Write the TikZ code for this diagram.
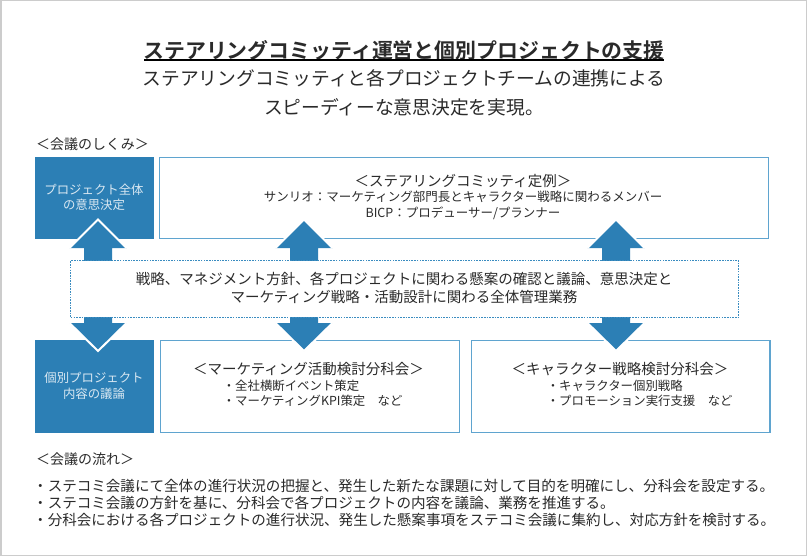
\documentclass[tikz,border=0pt]{standalone}
\usepackage{fontspec}
\setmainfont{Noto Sans CJK JP}[BoldFont={Noto Sans CJK JP Bold}]
\definecolor{sblue}{HTML}{2C7FB5}
\definecolor{lblue}{HTML}{5FA4CF}
\definecolor{dblue}{HTML}{3A8CC0}
\definecolor{ink}{HTML}{2A2A2A}
\definecolor{pale}{HTML}{D9E8F2}
\tikzset{
 solidbox/.style={fill=sblue,draw=none,inner sep=0pt,anchor=north west},
 linebox/.style={draw=lblue,line width=1.4pt,fill=white,inner sep=0pt,anchor=north west},
 dashbox/.style={draw=dblue,line width=1pt,dash pattern=on 1.6pt off 1.1pt,fill=white,inner sep=0pt,anchor=north west},
 txt/.style={text=ink,inner sep=0pt,align=center},
 paletxt/.style={text=pale,inner sep=0pt,align=center,font=\fontsize{12.4}{15.3}\selectfont},
 listtxt/.style={txt,font=\fontsize{12.4}{15.3}\selectfont,align=left,anchor=north west},
 headtxt/.style={txt,font=\fontsize{14.5}{17}\selectfont},
 whiteedge/.style={draw=white,line width=2pt,line join=miter}
}
\begin{document}
\begin{tikzpicture}[x=1pt,y=-1pt]
\useasboundingbox (0,0) rectangle (808,557);
\fill[white] (0,0) rectangle (808,557);
\draw[draw=black!20,line width=1.2pt] (1,0.6) rectangle (806.7,555.7);
\node[txt,font=\fontsize{20.9}{24}\selectfont\bfseries] (title) at (404,50) {ステアリングコミッティ運営と個別プロジェクトの支援};
\draw[line width=1.5pt,black] (144,60) -- (664,60);
\node[txt,font=\fontsize{18.75}{29.5}\selectfont] (sub) at (404,93) {ステアリングコミッティと各プロジェクトチームの連携による\\スピーディーな意思決定を実現。};
\node[txt,font=\fontsize{14}{16}\selectfont] (h1) at (92.5,144) {＜会議のしくみ＞};
\node[solidbox,minimum width=118.5pt,minimum height=81.5pt] (topl) at (35,157) {};
\node[paletxt] (toplt) at (94,197) {プロジェクト全体\\の意思決定};
\node[linebox,minimum width=609pt,minimum height=81pt] (steer) at (158.5,157) {};
\node[txt,font=\fontsize{12.5}{15.5}\selectfont] (steert) at (463,197) {{\fontsize{14.5}{17}\selectfont ＜ステアリングコミッティ定例＞}\\サンリオ：マーケティング部門長とキャラクター戦略に関わるメンバー\\BICP：プロデューサー/プランナー};
\node[solidbox,minimum width=118.5pt,minimum height=93pt] (botl) at (35,340) {};
\node[paletxt] (botlt) at (94,386) {個別プロジェクト\\内容の議論};
\node[linebox,minimum width=298.5pt,minimum height=92pt] (mk) at (160,340) {};
\node[linebox,minimum width=298.5pt,minimum height=92pt] (ch) at (470.7,340) {};
% arrows
\foreach \cx in {98,304,616}{
 \fill[sblue] (\cx,219.5) -- (\cx+28.5,248) -- (\cx+14,248) -- (\cx+14,262) -- (\cx-14,262) -- (\cx-14,248) -- (\cx-28.5,248) -- cycle;
 \draw[whiteedge] (\cx-28.5,248) -- (\cx,219.5) -- (\cx+28.5,248);
 \fill[sblue] (\cx,351) -- (\cx+28.5,323) -- (\cx+14,323) -- (\cx+14,315) -- (\cx-14,315) -- (\cx-14,323) -- (\cx-28.5,323) -- cycle;
 \draw[whiteedge] (\cx-28.5,323) -- (\cx,351) -- (\cx+28.5,323);
}
\node[dashbox,minimum width=668pt,minimum height=56.5pt] (mid) at (70.3,260.2) {};
\node[txt,font=\fontsize{14.5}{18}\selectfont] (midt) at (404,288) {戦略、マネジメント方針、各プロジェクトに関わる懸案の確認と議論、意思決定と\\マーケティング戦略・活動設計に関わる全体管理業務};
\node[headtxt] (mkh) at (308.5,369) {＜マーケティング活動検討分科会＞};
\node[listtxt] (mkl) at (222.6,380) {・全社横断イベント策定\\・マーケティングKPI策定　など};
\node[headtxt] (chh) at (620,369) {＜キャラクター戦略検討分科会＞};
\node[listtxt] (chl) at (546.6,380) {・キャラクター個別戦略\\・プロモーション実行支援　など};
\node[txt,font=\fontsize{14}{16}\selectfont] (h2) at (85,459) {＜会議の流れ＞};
\node[txt,font=\fontsize{14.55}{17}\selectfont,align=left,anchor=north west] (flow) at (33,479) {・ステコミ会議にて全体の進行状況の把握と、発生した新たな課題に対して目的を明確にし、分科会を設定する。\\・ステコミ会議の方針を基に、分科会で各プロジェクトの内容を議論、業務を推進する。\\・分科会における各プロジェクトの進行状況、発生した懸案事項をステコミ会議に集約し、対応方針を検討する。};
\end{tikzpicture}
\end{document}
